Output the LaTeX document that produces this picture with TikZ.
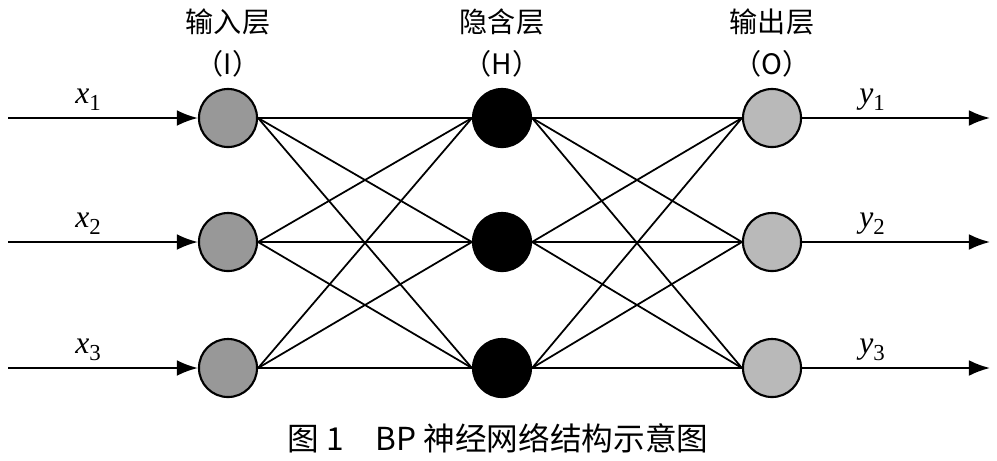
\documentclass[tikz,border=0pt]{standalone}
\usepackage{fontspec}
\setmainfont{Liberation Serif}
\newfontfamily\cjk{Noto Sans CJK SC}
\usetikzlibrary{arrows.meta}
\begin{document}
\begin{tikzpicture}[x=0.01cm,y=-0.01cm,
  neuron/.style={circle,draw,line width=0.6pt,minimum size=0.58cm,inner sep=0pt},
  inn/.style={neuron,fill=gray!85!black!70},
  hid/.style={neuron,fill=black},
  outn/.style={neuron,fill=gray!55},
  conn/.style={line width=0.5pt},
  arr/.style={line width=0.6pt,-{Latex[length=6pt,width=4.5pt]}},
  lab/.style={font=\fontsize{9}{10}\selectfont},
  head/.style={font=\cjk\fontsize{8}{9}\selectfont}]
\useasboundingbox (0,0) rectangle (997,460);
\foreach \i/\y in {1/118,2/242,3/368}{
  \node[inn] (i\i) at (228,\y) {};
  \node[hid] (h\i) at (502,\y) {};
  \node[outn] (o\i) at (772,\y) {};
  \coordinate (s\i) at (8,\y);
  \coordinate (e\i) at (990,\y);
  \draw[arr] (s\i) -- (i\i);
  \draw[arr] (o\i) -- (e\i);
  \node[lab] (xl\i) at (88,\y-18) {\textit{x}\raisebox{-2pt}{\fontsize{6.5}{7}\selectfont\i}};
  \node[lab] (yl\i) at (872,\y-18) {\textit{y}\raisebox{-2pt}{\fontsize{6.5}{7}\selectfont\i}};
}
\foreach \a in {1,2,3}{\foreach \b in {1,2,3}{
  \draw[conn] (i\a.east) -- (h\b.west);
  \draw[conn] (h\a.east) -- (o\b.west);
}}
\node[head] (t1) at (228,22) {输入层};
\node[head] (t2) at (502,22) {隐含层};
\node[head] (t3) at (772,22) {输出层};
\node[head] (p1) at (228,64) {（I）};
\node[head] (p2) at (502,64) {（H）};
\node[head] (p3) at (772,64) {（O）};
\node[font=\cjk\fontsize{9}{10}\selectfont] (cap) at (498,438) {图 1\quad BP 神经网络结构示意图};
\end{tikzpicture}
\end{document}
